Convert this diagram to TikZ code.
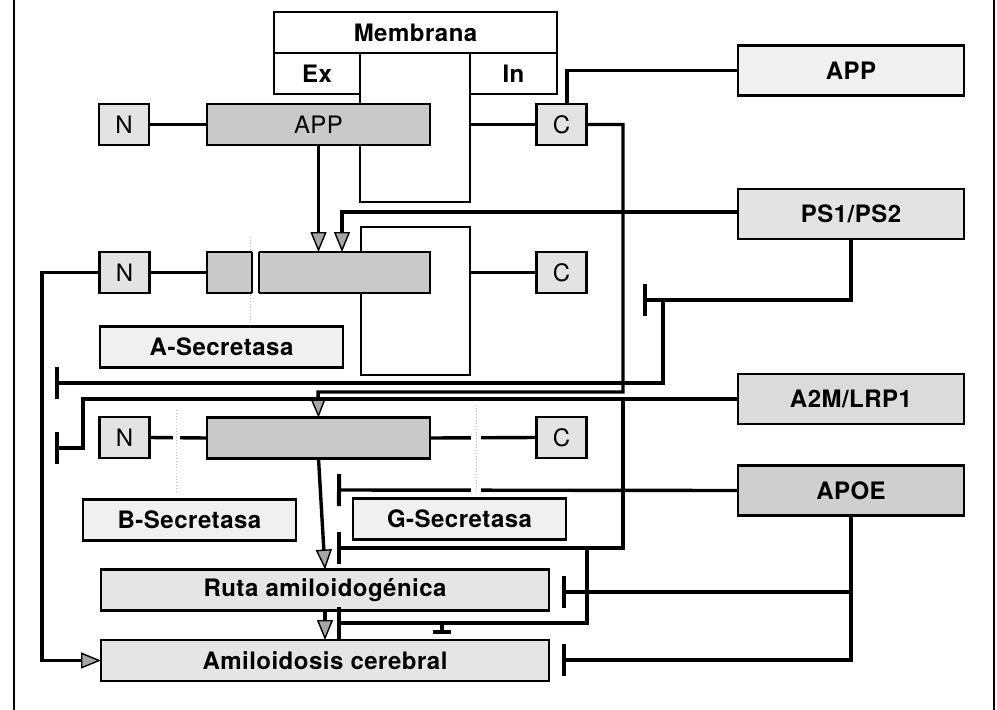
\documentclass[tikz,border=0pt]{standalone}
\usepackage{fontspec}
\setmainfont{TeX Gyre Heros}[LetterSpace=2]
\usetikzlibrary{arrows.meta}
\begin{document}
\begin{tikzpicture}[x=1pt,y=-1pt,
  base/.style={draw,line width=2.4pt,inner sep=0pt,outer sep=0pt,font=\fontsize{24}{28}\selectfont},
  big/.style={base,font=\fontsize{24}{28}\selectfont\bfseries,minimum width=226pt,minimum height=50pt},
  nc/.style={base,fill=gray!22,minimum width=50pt,minimum height=41pt},
  prot/.style={base,fill=gray!42,minimum width=223pt,minimum height=41pt},
  sec/.style={base,font=\fontsize{24}{28}\selectfont\bfseries,fill=gray!12,minimum height=41pt},
  mem/.style={base,font=\fontsize{24}{28}\selectfont\bfseries,line width=1.8pt},
  conn/.style={line width=3.4pt},
  arr/.style={line width=3.4pt,-{Triangle[length=20pt,width=16pt,fill=gray!70,line width=1.4pt]}},
  inh/.style={line width=3.4pt,-{Bar[width=32pt,line width=4pt]}},
  clv/.style={gray!55,line width=1pt,dotted},
]
\useasboundingbox (0,0) rectangle (997,710);
% frame
\draw[line width=1.6pt] (14,0) -- (14,710);
\draw[line width=1.6pt] (994,0) -- (994,710);

% membranes
\node[mem,minimum width=283pt,minimum height=41pt] (memtop) at (415.5,32.5) {Membrana};
\node[mem,minimum width=86pt,minimum height=41pt] (ex) at (317,73.5) {Ex};
\node[mem,minimum width=87pt,minimum height=41pt] (in) at (513.5,73.5) {In};
\draw[line width=1.8pt] (360,53) -- (360,202) -- (470,202) -- (470,53);
\draw[line width=1.8pt] (361,227) rectangle (470,375);
\coordinate (m1) at (470,124.5);
\coordinate (m2) at (470,272.5);

% right boxes
\node[big,fill=gray!12] (appr) at (851,70.5) {APP};
\node[big,fill=gray!22] (ps) at (851,214) {PS1/PS2};
\node[big,fill=gray!28] (a2m) at (851,399) {A2M/LRP1};
\node[big,fill=gray!38] (apoe) at (851,490.5) {APOE};

% row 1
\node[nc] (n1) at (124,124.5) {N};
\node[prot] (app1) at (318.5,124.5) {APP};
\node[nc] (c1) at (561.5,124.5) {C};
% row 2
\node[nc] (n2) at (124.5,272.5) {N};
\node[prot] (app2) at (318.5,272.5) {};
\node[nc] (c2) at (561.5,272.5) {C};
\node[sec,minimum width=243pt] (asec) at (221.5,347) {A-Secretasa};
% row 3
\node[nc] (n3) at (124.5,437.5) {N};
\node[prot] (app3) at (318.5,438) {};
\node[nc] (c3) at (561.5,437.5) {C};
\node[sec,minimum width=213pt] (bsec) at (189.5,520) {B-Secretasa};
\node[sec,minimum width=213pt] (gsec) at (459.5,519) {G-Secretasa};
% bottom
\node[sec,fill=gray!20,minimum width=448pt] (ruta) at (325,590) {Ruta amiloidogénica};
\node[sec,fill=gray!20,minimum width=448pt] (amil) at (325,660.5) {Amiloidosis cerebral};

% simple links
\draw[conn] (n1.east) -- (app1.west);
\draw[conn] (m1) -- (c1.west);
\draw[conn] (n2.east) -- (app2.west);
\draw[conn] (m2) -- (c2.west);
\draw[conn] (n3.east) -- (app3.west);
\draw[conn] (app3.east) -- (c3.west);
\draw[conn] (c1.north -| 567,0) |- (appr.west);

% arrows
\draw[arr] (app1.south) -- (app2.north);
\draw[arr] (ps.west |- 0,212) -- (342,212) -- (342,252);
\draw[arr] (c1.east) -- (623,124.5) -- (623,392) -- (318,392) -- (app3.north);
\draw[arr] (app3.south) -- (ruta.north);
\draw[arr] (ruta.south) -- (amil.north);
\draw[arr] (n2.west) -- (42,272.5) -- (42,660.5) -- (amil.west);

% inhibitions
\draw[inh] (ps.south) -- (851,300) -- (643,300);
\draw[inh] (663,300) -- (663,383) -- (55,383);
\draw[inh] (a2m.west) -- (83,399) -- (83,448) -- (55,448);
\draw[inh] (623,399) -- (623,548) -- (337,548);
\draw[inh] (587,548) -- (587,623) -- (337,623);
\draw[line width=3.4pt,-{Bar[width=18pt,line width=4pt]}] (442,623) -- (442,634);
\draw[inh] (apoe.west) -- (337,490);
\draw[inh] (apoe.south) -- (851,592) -- (562,592);
\draw[inh] (851,592) -- (851,660) -- (562,660);

% cleavage sites
\fill[white] (252,250) rectangle (259,295);
\draw[line width=1.4pt] (252,252) -- (252,293);
\draw[line width=1.4pt] (259,252) -- (259,293);
\draw[clv] (250,237) -- (250,250);
\draw[clv] (250,295) -- (250,325);
\fill[white] (173,434) rectangle (180,441);
\draw[clv] (176,410) -- (176,493);
\fill[white] (471,434) rectangle (481,441);
\fill[white] (471,487) rectangle (481,494);
\draw[clv] (476,405) -- (476,492);
\end{tikzpicture}
\end{document}
